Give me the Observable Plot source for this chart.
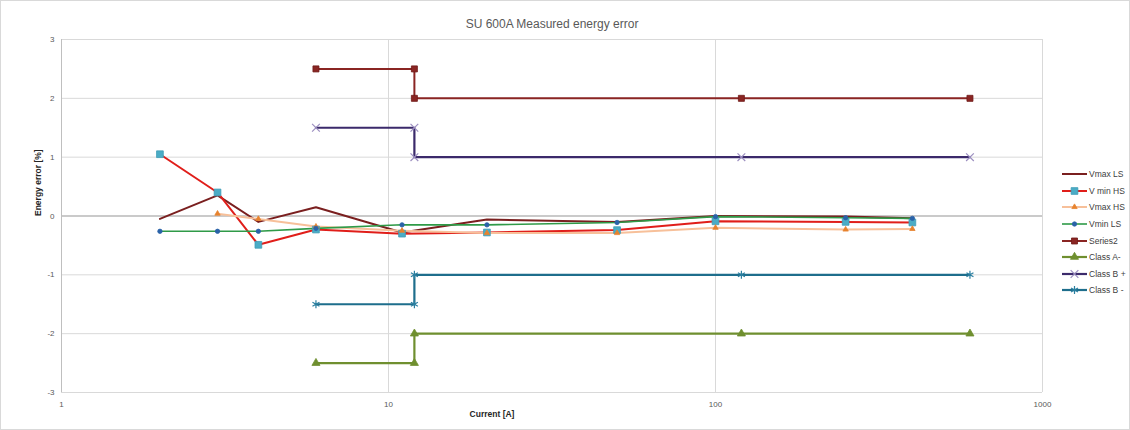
<!DOCTYPE html>
<html>
<head>
<meta charset="utf-8">
<script src="https://cdn.jsdelivr.net/npm/d3@7"></script>
<script src="https://cdn.jsdelivr.net/npm/@observablehq/plot@0.6"></script>
<style>
  body { margin: 0; background: #fff; }
  #wrap { position: relative; width: 1130px; height: 430px; font-family: "Liberation Sans", Arial, sans-serif; }
  #border { position: absolute; left: 0; top: 0; width: 1128px; height: 428px; border: 1px solid #d9d9d9; pointer-events: none; }
  #legend { position: absolute; left: 1062px; top: 166px; font-size: 8.5px; color: #404040; font-family: "Liberation Sans Narrow", "Liberation Sans", Arial, sans-serif; }
  #legend .item { display: flex; align-items: center; height: 16.6px; white-space: nowrap; }
  #legend svg { margin-right: 2px; }
</style>
</head>
<body>
<div id="wrap"><div id="chart"></div><div id="legend"></div><div id="border"></div></div>
<script>
const currents = [2, 3, 4, 6, 11, 20, 50, 100, 250, 400];
const vmaxLS = [-0.05, 0.35, -0.1, 0.15, -0.28, -0.06, -0.1, 0.0, -0.01, -0.04];
const vminHS = [1.05, 0.4, -0.49, -0.23, -0.3, -0.28, -0.24, -0.09, -0.1, -0.11];
const vmaxHS = [null, 0.04, -0.05, -0.18, -0.25, -0.29, -0.29, -0.2, -0.23, -0.22];
const vminLS = [-0.26, -0.26, -0.26, -0.21, -0.15, -0.15, -0.11, -0.01, -0.03, -0.04];

const limitX = [6, 12, 12, 120, 600];
const series2 = [2.5, 2.5, 2, 2, 2];
const classAminus = [-2.5, -2.5, -2, -2, -2];
const classBplus = [1.5, 1.5, 1, 1, 1];
const classBminus = [-1.5, -1.5, -1, -1, -1];

const yTicks = [-3, -2, -1, 0, 1, 2, 3];
const xTicks = [1, 10, 100, 1000];

const series = [
  {name: "Vmax LS", xs: currents, ys: vmaxLS, line: "#7a1f1f", width: 2, symbol: null},
  {name: "V min HS", xs: currents, ys: vminHS, line: "#e01e1a", width: 2, symbol: "square", fill: "#4bacc6", stroke: "#3f9db8", r: 3.8},
  {name: "Vmax HS", xs: currents, ys: vmaxHS, line: "#f7c09a", width: 2, symbol: "triangle", fill: "#e7832e", stroke: "#e7832e", r: 2},
  {name: "Vmin LS", xs: currents, ys: vminLS, line: "#2f9a48", width: 1.6, symbol: "circle", fill: "#2a62a8", stroke: "#2a62a8", r: 2.2},
  {name: "Series2", xs: limitX, ys: series2, line: "#8a2523", width: 2, symbol: "square", fill: "#8a2523", stroke: "#6e1a18", r: 3.4},
  {name: "Class A-", xs: limitX, ys: classAminus, line: "#6f8f2f", width: 2.2, symbol: "triangle", fill: "#6f8f2f", stroke: "#6f8f2f", r: 3},
  {name: "Class B +", xs: limitX, ys: classBplus, line: "#3b2a6b", width: 2.2, symbol: "times", fill: "none", stroke: "#9c8fc0", r: 3.6},
  {name: "Class B -", xs: limitX, ys: classBminus, line: "#1e6e8c", width: 2.2, symbol: "asterisk", fill: "none", stroke: "#2b7fa0", r: 3.8}
];

const rows = s => s.xs.map((x, i) => ({x, y: s.ys[i]})).filter(d => d.y !== null && d.y !== undefined);

const marks = [
  Plot.gridY(yTicks, {stroke: "#d9d9d9", strokeOpacity: 1, strokeWidth: 1}),
  Plot.gridX([10, 100, 1000], {stroke: "#d9d9d9", strokeOpacity: 1, strokeWidth: 1}),
  Plot.ruleY([0], {stroke: "#bfbfbf", strokeWidth: 1.3}),
  Plot.ruleX([1], {stroke: "#bfbfbf", strokeWidth: 1}),
  Plot.axisY(yTicks, {tickSize: 0, tickPadding: 7, fontSize: 8, fill: "#595959", tickFormat: d => String(d), label: null}),
  Plot.axisX(xTicks, {tickSize: 0, tickPadding: 9, fontSize: 8, fill: "#595959", tickFormat: d => String(d), label: null}),
  Plot.text(["SU 600A Measured energy error"], {frameAnchor: "top", dy: -20, fontSize: 12, fill: "#595959"}),
  Plot.text(["Current [A]"], {frameAnchor: "bottom", dy: 24, dx: -60, fontSize: 8.5, fontWeight: "bold", fill: "#262626"}),
  Plot.text(["Energy error [%]"], {frameAnchor: "left", dx: -23, rotate: -90, fontSize: 8.5, fontWeight: "bold", fill: "#262626"})
];
for (const s of series) {
  const d = rows(s);
  marks.push(Plot.line(d, {x: "x", y: "y", stroke: s.line, strokeWidth: s.width}));
}
for (const s of series) {
  if (!s.symbol) continue;
  const d = rows(s);
  marks.push(Plot.dot(d, {x: "x", y: "y", symbol: () => s.symbol, r: s.r, fill: s.fill, stroke: s.stroke, strokeWidth: s.fill === "none" ? 1.2 : 0.8}));
}

const chart = Plot.plot({
  width: 1130,
  height: 430,
  marginLeft: 61,
  marginRight: 88,
  marginTop: 39,
  marginBottom: 38,
  style: {fontFamily: "'Liberation Sans', Arial, sans-serif", background: "#fff"},
  x: {type: "log", domain: [1, 1000]},
  y: {domain: [-3, 3]},
  symbol: {type: "identity"},
  marks
});
document.getElementById("chart").appendChild(chart);

const legend = document.getElementById("legend");
for (const s of series) {
  const item = document.createElement("div");
  item.className = "item";
  const svg = d3.create("svg").attr("width", 25).attr("height", 10);
  svg.append("line").attr("x1", 0).attr("x2", 25).attr("y1", 5).attr("y2", 5).attr("stroke", s.line).attr("stroke-width", s.width);
  if (s.symbol) {
    const symMap = {square: d3.symbolSquare, triangle: d3.symbolTriangle, circle: d3.symbolCircle, times: d3.symbolTimes, asterisk: d3.symbolAsterisk};
    svg.append("path").attr("transform", "translate(12.5,5)")
      .attr("d", d3.symbol(symMap[s.symbol], Math.PI * s.r * s.r)())
      .attr("fill", s.fill).attr("stroke", s.stroke).attr("stroke-width", s.fill === "none" ? 1.2 : 0.8);
  }
  item.appendChild(svg.node());
  const t = document.createElement("span");
  t.textContent = s.name;
  item.appendChild(t);
  legend.appendChild(item);
}
</script>
</body>
</html>
